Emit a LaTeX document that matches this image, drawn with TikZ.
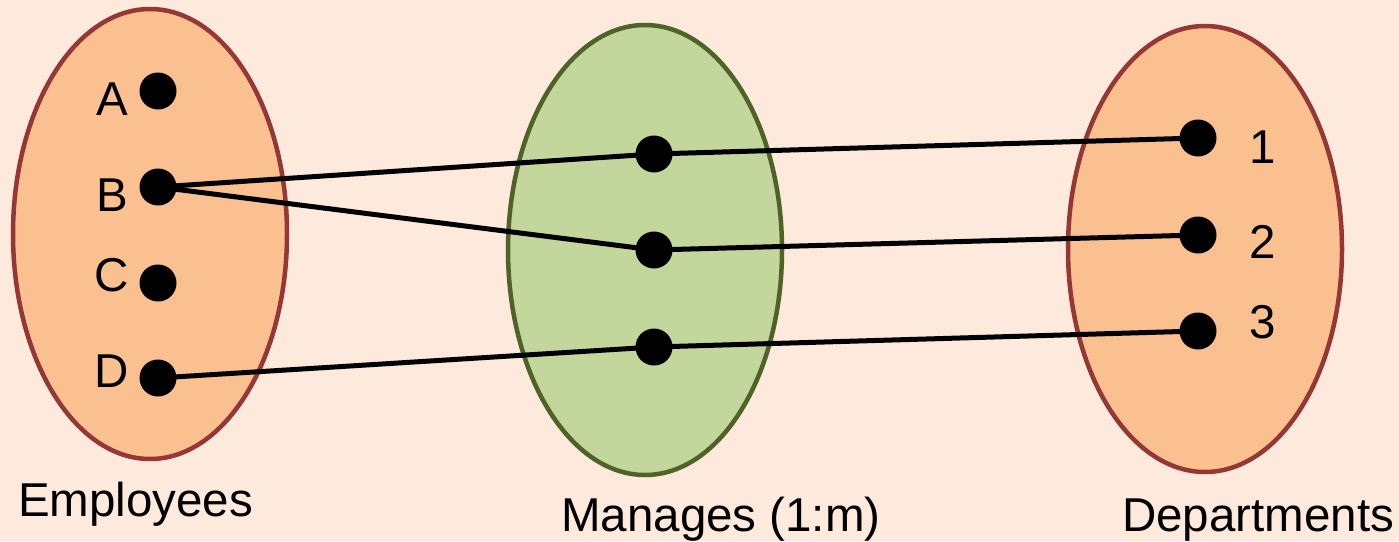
\documentclass[tikz,border=0pt]{standalone}
\usepackage{fontspec}
\setmainfont{Liberation Sans}
\definecolor{bgc}{HTML}{FDEADC}
\definecolor{orfill}{HTML}{FAC090}
\definecolor{orline}{HTML}{953735}
\definecolor{grfill}{HTML}{C3D69B}
\definecolor{grline}{HTML}{4F6228}
\tikzset{
  setorange/.style={fill=orfill,draw=orline,line width=4.5pt},
  setgreen/.style={fill=grfill,draw=grline,line width=4.5pt},
  dot/.style={circle,fill=black,inner sep=0pt,minimum size=37pt},
  lbl/.style={font=\fontsize{47.5}{52}\selectfont,inner sep=0pt,anchor=base},
  settitle/.style={font=\fontsize{47.5}{52}\selectfont,inner sep=0pt,anchor=base west},
  link/.style={line width=5pt,black}
}
\begin{document}
\begin{tikzpicture}[x=1pt,y=-1pt]
\fill[bgc] (0,0) rectangle (1399,541);
\useasboundingbox (0,0) rectangle (1399,541);
\draw[setorange] (150,234) ellipse [x radius=137, y radius=225];
\draw[setgreen] (645,250) ellipse [x radius=137, y radius=225];
\draw[setorange] (1205,249) ellipse [x radius=137, y radius=223];
\node[dot] (a) at (158,91) {};
\node[dot] (b) at (158,187) {};
\node[dot] (c) at (158,283) {};
\node[dot] (d) at (158,378) {};
\node[dot] (m1) at (654,154) {};
\node[dot] (m2) at (654,250) {};
\node[dot] (m3) at (654,347) {};
\node[dot] (r1) at (1198,138) {};
\node[dot] (r2) at (1198,235) {};
\node[dot] (r3) at (1198,331) {};
\draw[link] (b.center) -- (m1.center) -- (r1.center);
\draw[link] (b.center) -- (m2.center) -- (r2.center);
\draw[link] (d.center) -- (m3.center) -- (r3.center);
\node[lbl] (la) at (112,115) {A};
\node[lbl] (lb) at (112,211) {B};
\node[lbl] (lc) at (112,291) {C};
\node[lbl] (ld) at (112,387) {D};
\node[lbl] (l1) at (1263,163) {1};
\node[lbl] (l2) at (1263,258) {2};
\node[lbl] (l3) at (1263,338) {3};
\node[settitle] (ce) at (18,516) {Employees};
\node[settitle] (cm) at (561,531) {Manages (1:m)};
\node[settitle] (cd) at (1122,531) {Departments};
\end{tikzpicture}
\end{document}
